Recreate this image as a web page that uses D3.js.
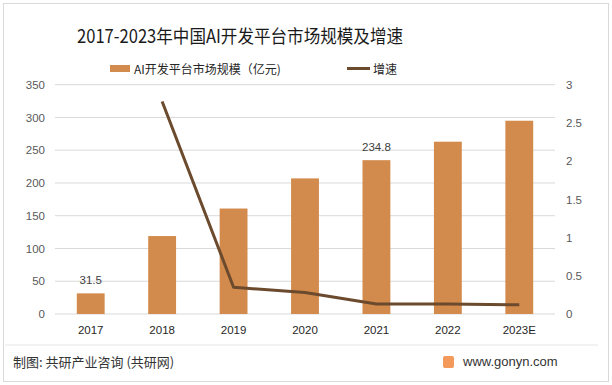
<!DOCTYPE html>
<html>
<head>
<meta charset="utf-8">
<script src="https://cdn.jsdelivr.net/npm/d3@7"></script>
<style>
  body { margin: 0; background: #fff; }
  svg { font-family: "Microsoft YaHei", "Noto Sans CJK SC", sans-serif; }
</style>
</head>
<body>
<svg id="chart" width="612" height="385"></svg>
<script>
// data
var years = ["2017", "2018", "2019", "2020", "2021", "2022", "2023E"];
var scale = [31.5, 119, 161, 207, 234.8, 263, 295];
var growth = [null, 2.78, 0.35, 0.28, 0.13, 0.13, 0.12];
var leftTicks = [0, 50, 100, 150, 200, 250, 300, 350];
var rightTicks = [0, 0.5, 1, 1.5, 2, 2.5, 3];
var labelled = ["2017", "2021"];

var svg = d3.select("#chart");
var W = +svg.attr("width"), H = +svg.attr("height");

// plot area (window.top is reserved, so name it plotTop)
var plotLeft = 55, plotRight = 555, plotTop = 84.7, plotBottom = 314;

// outer frame
svg.append("rect").attr("x", 3.5).attr("y", 3.5).attr("width", W - 7).attr("height", H - 7)
  .attr("fill", "none").attr("stroke", "#d9d9d9");

var x = d3.scaleBand().domain(years).range([plotLeft, plotRight]).paddingInner(0.61).paddingOuter(0.305);
var y = d3.scaleLinear().domain([0, 350]).range([plotBottom, plotTop]);
var y2 = d3.scaleLinear().domain([0, 3]).range([plotBottom, plotTop]);

// gridlines
svg.append("g").selectAll("line").data(leftTicks).enter().append("line")
  .attr("x1", plotLeft).attr("x2", plotRight)
  .attr("y1", function(d){ return y(d); }).attr("y2", function(d){ return y(d); })
  .attr("stroke", "#d9d9d9").attr("stroke-width", 1);

// left axis
var ya = svg.append("g").attr("transform", "translate(" + (plotLeft - 10) + ",0)")
  .call(d3.axisLeft(y).tickValues(leftTicks).tickSize(0).tickPadding(0));
ya.select(".domain").remove();
ya.selectAll("text").attr("fill", "#595959").style("font-size", "11.5px").style("font-family", "Arial, 'Liberation Sans', sans-serif");

// right axis
var yb = svg.append("g").attr("transform", "translate(" + (plotRight + 11) + ",0)")
  .call(d3.axisRight(y2).tickValues(rightTicks).tickSize(0).tickPadding(0).tickFormat(d3.format("")));
yb.select(".domain").remove();
yb.selectAll("text").attr("fill", "#595959").style("font-size", "11.5px").style("font-family", "Arial, 'Liberation Sans', sans-serif");

// x axis
var xa = svg.append("g").attr("transform", "translate(0," + (plotBottom + 12) + ")")
  .call(d3.axisBottom(x).tickSize(0).tickPadding(0));
xa.select(".domain").remove();
xa.selectAll("text").attr("fill", "#262626").style("font-size", "11.5px").attr("dy", "0.71em")
  .style("font-family", "Arial, 'Liberation Sans', sans-serif");

// bars
svg.append("g").selectAll("rect").data(scale).enter().append("rect")
  .attr("x", function(d, i){ return x(years[i]); })
  .attr("y", function(d){ return y(d); })
  .attr("width", x.bandwidth())
  .attr("height", function(d){ return plotBottom - y(d); })
  .attr("fill", "#D38B4D");

// data labels
svg.append("g").selectAll("text").data(scale.filter(function(d, i){ return labelled.indexOf(years[i]) >= 0; }))
  .enter().append("text")
  .attr("x", function(d){ return x(years[scale.indexOf(d)]) + x.bandwidth() / 2; })
  .attr("y", function(d){ return y(d) - 9; })
  .attr("text-anchor", "middle").attr("fill", "#404040")
  .style("font-size", "11.5px").style("font-family", "Arial, 'Liberation Sans', sans-serif")
  .text(function(d){ return d; });

// growth line
var pts = years.map(function(yr, i){ return [yr, growth[i]]; }).filter(function(p){ return p[1] != null; });
var line = d3.line()
  .x(function(d){ return x(d[0]) + x.bandwidth() / 2; })
  .y(function(d){ return y2(d[1]); });
svg.append("path").datum(pts).attr("d", line)
  .attr("fill", "none").attr("stroke", "#6B4A2D").attr("stroke-width", 3).attr("stroke-linejoin", "round");

// title
svg.append("text").attr("x", 77).attr("y", 43)
  .attr("fill", "#1a1a1a").style("font-size", "18.5px")
  .attr("textLength", 326).attr("lengthAdjust", "spacingAndGlyphs")
  .text("2017-2023年中国AI开发平台市场规模及增速");

// legend
svg.append("rect").attr("x", 110).attr("y", 65).attr("width", 20).attr("height", 7).attr("fill", "#D38B4D");
svg.append("text").attr("x", 134).attr("y", 74).attr("fill", "#262626").style("font-size", "12px")
  .text("AI开发平台市场规模（亿元)");
svg.append("line").attr("x1", 347).attr("x2", 370).attr("y1", 68.5).attr("y2", 68.5)
  .attr("stroke", "#6B4A2D").attr("stroke-width", 3);
svg.append("text").attr("x", 373).attr("y", 74).attr("fill", "#262626").style("font-size", "12px")
  .text("增速");

// footer
svg.append("line").attr("x1", 5).attr("x2", 598).attr("y1", 345).attr("y2", 345)
  .attr("stroke", "#e6e6e6");
svg.append("text").attr("x", 13).attr("y", 367).attr("fill", "#333").style("font-size", "13px")
  .text("制图: 共研产业咨询 (共研网)");
svg.append("rect").attr("x", 443).attr("y", 356).attr("width", 11).attr("height", 12).attr("rx", 2)
  .attr("fill", "#F39A5B");
svg.append("text").attr("x", 463).attr("y", 366).attr("fill", "#333").style("font-size", "13px")
  .style("font-family", "Arial, 'Liberation Sans', sans-serif")
  .text("www.gonyn.com");
</script>
</body>
</html>
